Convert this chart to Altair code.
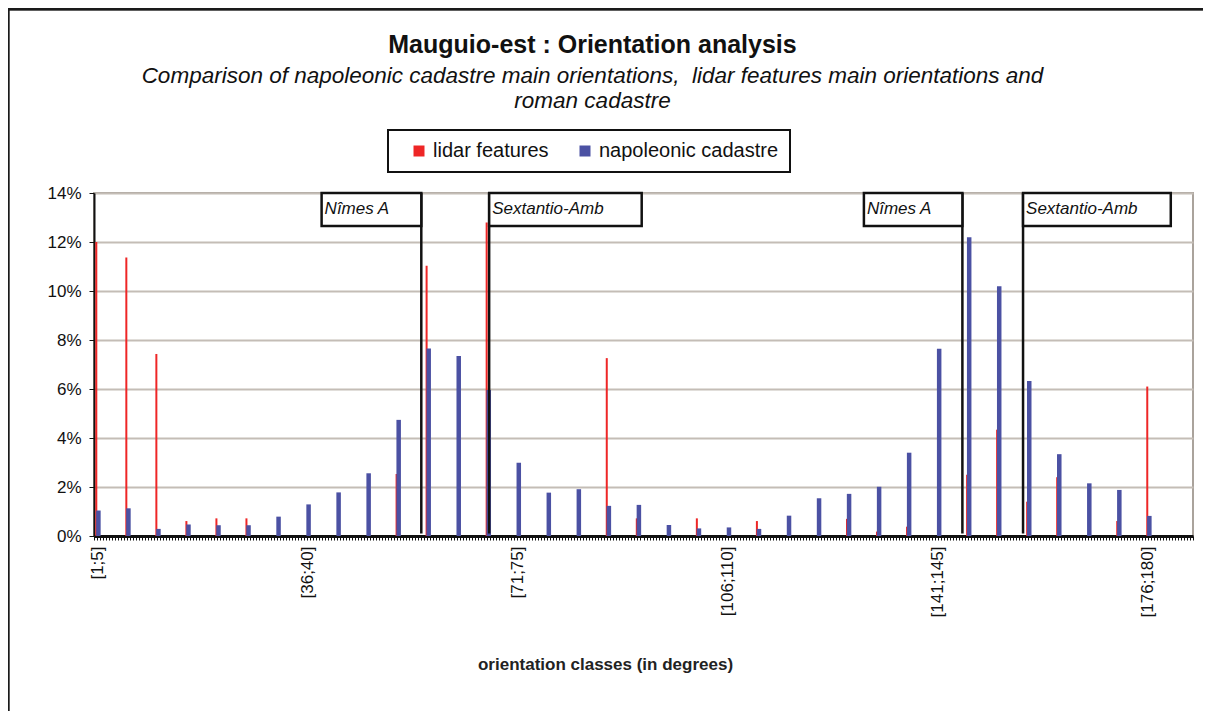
import altair as alt
import pandas as pd

# ---- data -------------------------------------------------------------
CLASS_START = [1 + 5 * i for i in range(36)]            # first degree of each class
CLASS_LABELS = [f"[{s};{s + 4}]" for s in CLASS_START]
LABELED_CLASSES = ["[1;5]", "[36;40]", "[71;75]", "[106;110]", "[141;145]", "[176;180]"]

LIDAR = [12.0, 11.37, 7.43, 0.61, 0.72, 0.72, 0.0, 0.0, 0.0, 0.0, 2.53, 11.03,
         0.0, 12.80, 0.0, 0.0, 0.0, 7.26, 0.72, 0.0, 0.72, 0.0, 0.61, 0.0,
         0.0, 0.70, 0.18, 0.38, 0.0, 2.50, 4.34, 1.40, 2.40, 0.0, 0.61, 6.10]
NAPOLEONIC = [1.04, 1.13, 0.29, 0.47, 0.44, 0.44, 0.79, 1.29, 1.78, 2.56, 4.74, 7.65,
              7.35, 5.96, 2.99, 1.77, 1.91, 1.23, 1.27, 0.45, 0.31, 0.35, 0.29, 0.83,
              1.54, 1.72, 2.01, 3.40, 7.64, 12.19, 10.19, 6.33, 3.34, 2.15, 1.88, 0.82]

ROMAN_NAMES = ["Nîmes A", "Sextantio-Amb", "Nîmes A", "Sextantio-Amb"]
ROMAN_ANGLE = [55.0, 66.3, 145.1, 155.2]
BOX_FROM = [38.4, 66.3, 128.7, 155.2]
BOX_TO = [55.0, 91.7, 145.1, 179.8]

SERIES = ["lidar features", "napoleonic cadastre"]
COLORS = ["#ee2626", "#4b51a3"]
FONT = "Liberation Sans"

bars = pd.DataFrame({
    "pos": CLASS_START * 2,
    "cls": CLASS_LABELS * 2,
    "value": LIDAR + NAPOLEONIC,
    "series": [SERIES[0]] * 36 + [SERIES[1]] * 36,
})
roman = pd.DataFrame({"name": ROMAN_NAMES, "angle": ROMAN_ANGLE,
                      "x1": BOX_FROM, "x2": BOX_TO,
                      "ylo": [0.1] * 4, "yhi": [14.0] * 4,
                      "blo": [12.65] * 4, "ymid": [13.35] * 4})

# ---- scales / axes ----------------------------------------------------
label_pos = [CLASS_START[CLASS_LABELS.index(l)] for l in LABELED_CLASSES]
expr = "''"
for p, l in reversed(list(zip(label_pos, LABELED_CLASSES))):
    expr = f"datum.value == {p} ? '{l}' : ({expr})"

xscale = alt.Scale(domain=[0.5, 183.5], nice=False, zero=False, padding=0)
xaxis = alt.Axis(values=[0.5 + 0.5 * k for k in range(367)], labelExpr=expr,
                 labelOverlap=False, labelAngle=270, labelAlign="right",
                 labelBaseline="middle", labelPadding=6, labelFontSize=17,
                 labelFont=FONT, labelColor="#111", tickSize=4, tickColor="#111",
                 tickWidth=1, domainColor="#111", domainWidth=3, grid=False,
                 labelBound=False, labelFlush=False,
                 title="orientation classes (in degrees)", titleFont=FONT,
                 titleFontSize=17, titleFontWeight="bold", titleColor="#222",
                 titleX=511, titleY=128, titleAnchor="start", titleAlign="center",
                 titleBaseline="middle")
yscale = alt.Scale(domain=[0, 14], nice=False, padding=0)
yaxis = alt.Axis(values=[0, 2, 4, 6, 8, 10, 12, 14], labelExpr="datum.value + '%'",
                 labelFontSize=17, labelFont=FONT, labelColor="#111", labelPadding=8,
                 tickSize=5, tickColor="#111", domainColor="#111", domainWidth=2,
                 gridColor="#c4bdb6", gridWidth=2, title=None)

color = alt.Color("series:N", scale=alt.Scale(domain=SERIES, range=COLORS),
                  legend=alt.Legend(title=None, orient="none", legendX=294, legendY=-63,
                                    direction="horizontal", symbolType="square",
                                    symbolSize=121, symbolStrokeWidth=0,
                                    symbolOffset=10,
                                    labelFontSize=20, labelFont=FONT, labelColor="#111",
                                    labelOffset=4, columnPadding=16, labelLimit=400,
                                    strokeColor="#111", padding=11))

base = alt.Chart(bars)
red = base.transform_filter(alt.datum.series == SERIES[0]).mark_bar(
    width=2, xOffset=-0.7).encode(
    x=alt.X("pos:Q", scale=xscale, axis=xaxis),
    y=alt.Y("value:Q", scale=yscale, axis=yaxis),
    color=color)
blue = base.transform_filter(alt.datum.series == SERIES[1]).mark_bar(
    width=4.5, xOffset=1.4).encode(
    x=alt.X("pos:Q", scale=xscale, axis=xaxis),
    y=alt.Y("value:Q", scale=yscale, axis=yaxis),
    color=color)

rbase = alt.Chart(roman)
lines = rbase.mark_rule(color="#111", strokeWidth=2.5).encode(
    x=alt.X("angle:Q", scale=xscale, axis=xaxis),
    y=alt.Y("ylo:Q", scale=yscale, axis=yaxis), y2="yhi:Q")
boxes = rbase.mark_rect(fill="white", stroke="#111", strokeWidth=2.5).encode(
    x=alt.X("x1:Q", scale=xscale, axis=xaxis), x2="x2:Q",
    y=alt.Y("blo:Q", scale=yscale, axis=yaxis), y2="yhi:Q")
labels = rbase.mark_text(align="left", baseline="middle", dx=3, font=FONT,
                         fontSize=17, fontStyle="italic", color="#111").encode(
    x=alt.X("x1:Q", scale=xscale, axis=xaxis),
    y=alt.Y("ymid:Q", scale=yscale, axis=yaxis), text="name:N")

frame_left = alt.Chart(roman).mark_rule(color="#1a1a1a", strokeWidth=2.5).encode(
    x=alt.value(-86), y=alt.value(-185), y2=alt.value(540))
frame_top = alt.Chart(roman).mark_rule(color="#1a1a1a", strokeWidth=2.5).encode(
    x=alt.value(-87), x2=alt.value(1120), y=alt.value(-184))

chart = alt.layer(red, blue, lines, boxes, labels, frame_left, frame_top).properties(
    width=1099, height=343,
    padding={"left": 86, "top": 185, "right": 10, "bottom": 175},
    autosize=alt.AutoSizeParams(type="none"),
    title=alt.TitleParams(
        text="Mauguio-est : Orientation analysis",
        subtitle=["Comparison of napoleonic cadastre main orientations,\u00a0 lidar features main orientations and",
                  "roman cadastre"],
        font=FONT, fontSize=25, fontWeight="bold", color="#111",
        subtitleFont=FONT, subtitleFontSize=22.5, subtitleFontStyle="italic",
        subtitleColor="#111", subtitleLineHeight=25, subtitlePadding=7,
        anchor="middle", dx=-51, dy=106, offset=0),
).configure_view(stroke="#aaa39c", strokeWidth=2).configure_legend(strokeWidth=2)

chart.save("out.html", embed_options={"renderer": "svg", "actions": False})
